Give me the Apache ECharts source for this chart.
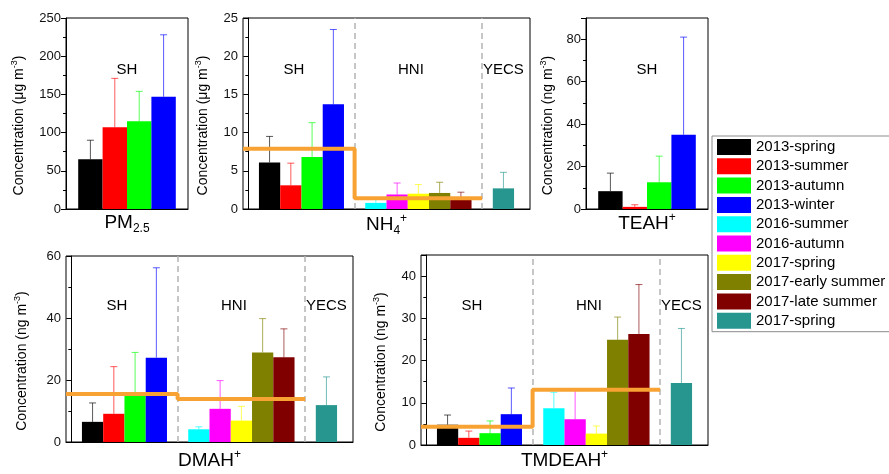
<!DOCTYPE html>
<html>
<head>
<meta charset="utf-8">
<title>Concentration by site and season</title>
<script src="https://cdn.jsdelivr.net/npm/echarts@6/dist/echarts.min.js"></script>
<style>
html, body { margin: 0; padding: 0; background: #fff; }
#chart { width: 889px; height: 474px; }
</style>
</head>
<body>
<div id="chart"></div>
<script>
// seasons / campaigns, one colour each (last one is the YECS cruise)
var seasons = ['2013-spring', '2013-summer', '2013-autumn', '2013-winter', '2016-summer',
    '2016-autumn', '2017-spring', '2017-early summer', '2017-late summer', '2017-spring'];
var colors = ['#000000', '#ff0000', '#00ff00', '#0000ff', '#00ffff',
    '#ff00ff', '#ffff00', '#808000', '#800000', '#26968f'];
var sites = ['SH', 'HNI', 'YECS'];
var siteMembers = [[0, 1, 2, 3], [4, 5, 6, 7, 8], [9]];

// mean and standard deviation
var pm25Mean = [65, 107, 115, 147];
var pm25Sd = [25, 64, 39, 81];

var nh4Mean = [6.1, 3.1, 6.8, 13.7, 0.8, 1.9, 2.0, 2.1, 1.2, 2.7];
var nh4Sd = [3.4, 2.9, 4.5, 9.8, 0.5, 1.5, 1.2, 1.4, 1.0, 2.1];
var nh4SiteMean = [7.9, 1.4];

var teahMean = [8.4, 1.0, 12.6, 35];
var teahSd = [8.5, 1.0, 12.3, 46];

var dmahMean = [6.5, 9.1, 15.3, 27.2, 4.1, 10.7, 6.9, 28.9, 27.3, 11.9];
var dmahSd = [6.1, 15.2, 13.6, 29, 0.8, 9.1, 4.6, 10.9, 9.2, 9.1];
var dmahSiteMean = [15.5, 13.9];

var tmdeahMean = [4.8, 1.7, 2.8, 7.3, 8.7, 6.1, 2.7, 24.9, 26.3, 14.7];
var tmdeahSd = [2.3, 1.6, 2.9, 6.2, 3.8, 6.8, 1.8, 5.4, 11.7, 12.9];
var tmdeahSiteMean = [4.3, 13.1];

var FONT = '"Liberation Sans", Arial, sans-serif';
var ORANGE = '#f7a233';

var legendKeys = seasons.map(function (s, i) { return i + ':' + s; });

var panels = [
    { title: 'PM{sub|2.5}', unit: 'μg', mean: pm25Mean, sd: pm25Sd, max: 250, interval: 50,
      box: { left: 66, top: 18, width: 122, height: 191 }, nameGap: 38, titleGap: 2 },
    { title: 'NH{sub|4}{sup|+}', unit: 'μg', mean: nh4Mean, sd: nh4Sd, siteMean: nh4SiteMean, max: 25, interval: 5,
      box: { left: 243, top: 18, width: 287, height: 191 }, nameGap: 31, titleGap: 4 },
    { title: 'TEAH{sup|+}', unit: 'ng', mean: teahMean, sd: teahSd, max: 90, interval: 20,
      box: { left: 586, top: 18, width: 122, height: 191 }, nameGap: 29, titleGap: 3 },
    { title: 'DMAH{sup|+}', unit: 'ng', mean: dmahMean, sd: dmahSd, siteMean: dmahSiteMean, max: 60, interval: 20,
      box: { left: 66, top: 256, width: 287, height: 191 }, nameGap: 35, titleGap: 7 },
    { title: 'TMDEAH{sup|+}', unit: 'ng', mean: tmdeahMean, sd: tmdeahSd, siteMean: tmdeahSiteMean, max: 45, interval: 10,
      box: { left: 421, top: 255, width: 287, height: 192 }, nameGap: 31, titleGap: 4 }
];

function renderErr(params, api) {
    var x = api.value(0), m = api.value(1), sd = api.value(2);
    var c = colors[api.value(3)];
    var base = api.coord([x, m]);
    var top = api.coord([x, m + sd]);
    var st = { stroke: c, lineWidth: 1, opacity: 0.65 };
    return {
        type: 'group',
        children: [
            { type: 'line', shape: { x1: base[0], y1: base[1], x2: top[0], y2: top[1] }, style: st },
            { type: 'line', shape: { x1: top[0] - 3.5, y1: top[1], x2: top[0] + 3.5, y2: top[1] }, style: st }
        ]
    };
}

// site names drawn at data coordinates
function renderSite(params, api) {
    var pt = api.coord([api.value(0), api.value(1)]);
    return {
        type: 'text',
        style: {
            x: pt[0], y: pt[1], text: sites[api.value(2)],
            fontFamily: FONT, fontSize: 15, fill: '#000',
            align: 'center', verticalAlign: 'middle'
        }
    };
}

var grids = [], xAxes = [], yAxes = [], series = [];

panels.forEach(function (p, k) {
    var nSites = p.mean.length > 4 ? 3 : 1;
    var xs = [], dividers = [], labels = [];
    var pos = 1;
    for (var s = 0; s < nSites; s++) {
        var mem = siteMembers[s];
        var start = pos;
        mem.forEach(function () { xs.push(pos); pos++; });
        var shift = (nSites > 1 && mem.length > 1) ? -0.35 : 0;
        labels.push([(start + pos - 1) / 2 + shift, p.max * 0.73, s]);
        if (s < nSites - 1) { dividers.push(pos); pos++; }
    }
    var xmin = nSites > 1 ? -0.25 : 0;
    var xmax = nSites > 1 ? pos + 0.25 : pos;
    var unitPx = p.box.width / (xmax - xmin);

    grids.push({
        left: p.box.left, top: p.box.top, width: p.box.width, height: p.box.height,
        show: true, borderColor: '#000', borderWidth: 1, backgroundColor: 'transparent'
    });

    xAxes.push({
        gridIndex: k, type: 'value', min: xmin, max: xmax,
        axisLine: { show: true, onZero: false, lineStyle: { color: '#000', width: 1 } },
        axisTick: { show: false }, axisLabel: { show: false }, splitLine: { show: false },
        name: p.title, nameLocation: 'middle', nameGap: p.titleGap,
        nameTextStyle: {
            fontFamily: FONT, fontSize: 19, color: '#000', lineHeight: 24, verticalAlign: 'top',
            rich: {
                sub: { fontFamily: FONT, fontSize: 12, lineHeight: 12, verticalAlign: 'bottom', color: '#000' },
                sup: { fontFamily: FONT, fontSize: 12, lineHeight: 12, verticalAlign: 'top', color: '#000' }
            }
        }
    });

    yAxes.push({
        gridIndex: k, type: 'value', min: 0, max: p.max, interval: p.interval,
        axisLine: { show: true, lineStyle: { color: '#000', width: 1 } },
        axisTick: { show: true, inside: false, length: 5, lineStyle: { color: '#000' } },
        minorTick: { show: true, splitNumber: 2, length: 3, lineStyle: { color: '#000' } },
        splitLine: { show: false },
        axisLabel: {
            fontFamily: FONT, fontSize: 13, color: '#111', margin: 5,
            showMaxLabel: p.max % p.interval === 0
        },
        name: 'Concentration (' + p.unit + ' m{sup|-3})',
        nameLocation: 'middle', nameGap: p.nameGap, nameRotate: 90,
        nameTextStyle: {
            fontFamily: FONT, fontSize: 14, color: '#000', lineHeight: 18,
            padding: [0, 24, 0, 0],
            rich: { sup: { fontFamily: FONT, fontSize: 9, lineHeight: 9, verticalAlign: 'top', color: '#000' } }
        }
    });

    p.mean.forEach(function (v, i) {
        series.push({
            type: 'bar', name: legendKeys[i], xAxisIndex: k, yAxisIndex: k,
            data: [[xs[i], v]], barWidth: unitPx, barGap: '-100%',
            itemStyle: { color: colors[i] }, z: 2
        });
    });

    series.push({
        type: 'custom', name: 'sd' + k, xAxisIndex: k, yAxisIndex: k,
        renderItem: renderErr, z: 3,
        data: p.mean.map(function (m, i) { return [xs[i], m, p.sd[i], i]; })
    });

    if (p.siteMean) {
        series.push({
            type: 'line', name: 'site mean ' + k, xAxisIndex: k, yAxisIndex: k,
            data: [[xmin, p.siteMean[0]], [dividers[0], p.siteMean[0]],
                   [dividers[0], p.siteMean[1]], [dividers[1], p.siteMean[1]]],
            symbol: 'none', lineStyle: { color: ORANGE, width: 4 }, z: 5,
            markLine: {
                silent: true, symbol: ['none', 'none'], label: { show: false },
                lineStyle: { color: '#b4b4b4', type: [6, 4], width: 1.5 },
                data: dividers.map(function (d) { return { xAxis: d }; })
            }
        });
    }

    series.push({
        type: 'custom', name: 'site ' + k, xAxisIndex: k, yAxisIndex: k,
        renderItem: renderSite, z: 6, silent: true,
        data: labels
    });
});

var chart = echarts.init(document.getElementById('chart'));
chart.setOption({
    animation: false,
    backgroundColor: '#fff',
    grid: grids,
    xAxis: xAxes,
    yAxis: yAxes,
    legend: {
        data: legendKeys, orient: 'vertical', left: 712, top: 136,
        padding: [3, 8, 3, 5], itemWidth: 34, itemHeight: 16, itemGap: 3.3,
        icon: 'rect', borderColor: '#8c8c8c', borderWidth: 1, selectedMode: false,
        textStyle: { fontFamily: FONT, fontSize: 15, color: '#000', lineHeight: 16 },
        formatter: function (name) { return name.slice(name.indexOf(':') + 1); }
    },
    series: series
});
</script>
</body>
</html>
